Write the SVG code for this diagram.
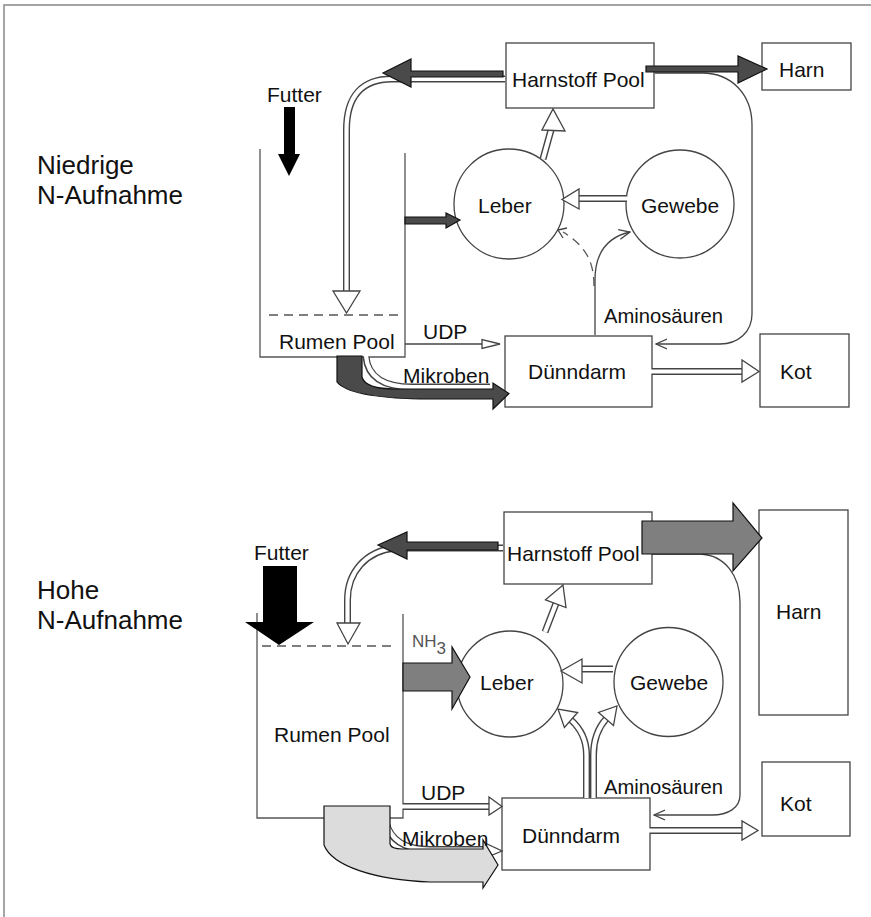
<svg xmlns="http://www.w3.org/2000/svg" width="871" height="917" viewBox="0 0 871 917">
<style>
text{font-family:"Liberation Sans",Arial,Helvetica,sans-serif;fill:#111;font-size:21px}
.lab{font-size:26px}
.box{fill:#fff;stroke:#444;stroke-width:1.3}
.tank{fill:none;stroke:#555;stroke-width:1.3}
.dash{fill:none;stroke:#555;stroke-width:1.3;stroke-dasharray:9,6}
.pipeO{fill:none;stroke:#444;stroke-width:7}
.pipeI{fill:none;stroke:#fff;stroke-width:4.2}
.head{fill:#fff;stroke:#444;stroke-width:1.3;stroke-linejoin:miter}
.thin{fill:none;stroke:#444;stroke-width:1.3}
.dark{fill:#4a4a4a;stroke:#111;stroke-width:1.2}
.gray{fill:#7f7f7f;stroke:#111;stroke-width:1.2}
.light{fill:#dcdcdc;stroke:#111;stroke-width:1.2}
.black{fill:#000}
</style>
<defs>
<marker id="vh" viewBox="0 0 12 12" refX="11" refY="6" markerWidth="12" markerHeight="12" markerUnits="userSpaceOnUse" orient="auto">
<path d="M0 1 L11 6 L0 11" fill="none" stroke="#444" stroke-width="1.3"/>
</marker>
</defs>
<rect width="871" height="917" fill="#fff"/>
<path d="M4 917 L4 5 L871 5" fill="none" stroke="#888" stroke-width="1.5"/>

<g id="labels">
<text class="lab" x="37" y="174">Niedrige</text>
<text class="lab" x="37" y="204">N-Aufnahme</text>
<text class="lab" x="37" y="599">Hohe</text>
<text class="lab" x="37" y="629">N-Aufnahme</text>
</g>

<!-- ===== Upper: low N intake ===== -->
<g id="rumen-upper">
<path class="tank" d="M260 149 L260 357 L405 357 L405 153"/>
<line class="dash" x1="269" y1="315" x2="398" y2="315"/>
<text x="279" y="349">Rumen Pool</text>
</g>
<g id="futter-upper"><text x="267" y="102">Futter</text></g>
<g id="harnstoff-upper"><rect class="box" x="506" y="43" width="148" height="65"/><text x="512" y="87">Harnstoff Pool</text></g>
<g id="harn-upper"><rect class="box" x="762" y="43" width="89" height="47"/><text x="779" y="77">Harn</text></g>
<g id="leber-upper"><circle class="box" cx="509" cy="204" r="55"/><text x="478" y="213">Leber</text></g>
<g id="gewebe-upper"><circle class="box" cx="680" cy="204" r="54"/><text x="641" y="213">Gewebe</text></g>
<g id="duenndarm-upper"><rect class="box" x="505" y="336" width="147" height="71"/><text x="528" y="379">Dünndarm</text></g>
<g id="kot-upper"><rect class="box" x="760" y="334" width="89" height="73"/><text x="780" y="379">Kot</text></g>

<!-- ===== Lower: high N intake ===== -->
<g id="rumen-lower">
<path class="tank" d="M257 613 L257 818 L324 818 M390 818 L403 818 L403 614"/>
<line class="dash" x1="262" y1="646" x2="397" y2="646"/>
<text x="274" y="742">Rumen Pool</text>
</g>
<g id="futter-lower"><text x="254" y="560">Futter</text></g>
<g id="harnstoff-lower"><rect class="box" x="504" y="512" width="148" height="72"/><text x="507" y="561">Harnstoff Pool</text></g>
<g id="harn-lower"><rect class="box" x="759" y="510" width="89" height="205"/><text x="776" y="619">Harn</text></g>
<g id="leber-lower"><circle class="box" cx="510" cy="684" r="53"/><text x="480" y="690">Leber</text></g>
<g id="gewebe-lower"><circle class="box" cx="668.5" cy="682" r="54.5"/><text x="630" y="690">Gewebe</text></g>
<g id="duenndarm-lower"><rect class="box" x="502" y="798" width="148" height="72"/><text x="522" y="843">Dünndarm</text></g>
<g id="kot-lower"><rect class="box" x="762" y="762" width="88" height="74"/><text x="780" y="811">Kot</text></g>

<g id="connectors">
<!-- upper -->
<path class="pipeO" d="M505 79 L392 79 C362 79 346.5 96 346.5 130 L346.5 292"/>
<path class="pipeI" d="M505 79 L392 79 C362 79 346.5 96 346.5 130 L346.5 293"/>
<polygon class="head" points="333,291 360,291 346.5,313"/>
<polygon class="dark" points="503,71 411,71 411,59 383,73 411,87 411,77 503,77"/>
<polygon class="black" points="284,107 295,107 295,154 300,154 289,176 278,154 284,154"/>
<path class="thin" d="M655 73 L702 73 C732 73 752 95 752 125 L752 314 C752 332 738 344 720 344 L656 344" marker-end="url(#vh)"/>
<polygon class="dark" points="646,66 738,66 738,56 767,69 738,83 738,72 646,72"/>
<polygon class="dark" points="405,217 446,217 446,213 460,220 446,228 446,224 405,224"/>
<path class="pipeO" d="M543 159 L551 130"/>
<path class="pipeI" d="M543 159 L551.3 129"/>
<polygon class="head" points="542,130 565,131 553,109"/>
<path class="pipeO" d="M627 198.5 L579 198.5"/>
<path class="pipeI" d="M627 198.5 L578 198.5"/>
<polygon class="head" points="579,189 579,209 562,199.5"/>
<path class="dash" d="M594 286 C594 262 586 246 563 232" stroke-dasharray="7,5"/>
<path class="thin" d="M567 228 L558 230 L563 238"/>
<path class="thin" d="M595 335 L595 280 C595 252 608 237 630 232" marker-end="url(#vh)"/>
<path class="thin" d="M405 344 L482 344"/>
<polygon class="head" points="482,339.5 482,348.5 500,344"/>
<path class="pipeO" d="M652 371.5 L743 371.5"/>
<path class="pipeI" d="M651 371.5 L743 371.5"/>
<polygon class="head" points="742,360 742,382 759,371.5"/>
<path class="pipeO" d="M366 357 C368 378 385 387 412 387 L490 387" stroke-width="5"/>
<path class="pipeI" d="M366 356 C368 378 385 387 412 387 L490 387" stroke-width="2.5"/>
<path class="dark" d="M337 356 L362 356 L362 377 C364 385 374 389 396 389 L493 389 L493 383 L509 393.5 L493 409 L493 399 L420 399 C375 398 345 392 337 382 Z"/>
<text x="403" y="383">Mikroben</text>
<text x="423" y="339">UDP</text>
<text x="604" y="323" textLength="119" lengthAdjust="spacingAndGlyphs">Aminosäuren</text>

<!-- lower -->
<path class="pipeO" d="M503 548 L395 548 C366 551 347.5 572 347.5 600 L347.5 624"/>
<path class="pipeI" d="M503 548 L395 548 C366 551 347.5 572 347.5 600 L347.5 625"/>
<polygon class="head" points="337,623 360,623 348,644"/>
<polygon class="dark" points="498,542 407,542 407,532 378,545 407,559 407,550 498,550"/>
<polygon class="black" points="263,566 297,566 297,622 314,622 279,645 245,622 263,622"/>
<path class="thin" d="M652 554 L700 554 C725 555 740 576 740 602 L740 795 C740 808 728 815 712 815 L654 815" marker-end="url(#vh)"/>
<polygon class="gray" points="642,521 733,521 733,503 762,538 733,571 733,554 642,554"/>
<text x="412" y="647" style="font-size:17px;fill:#555">NH<tspan dy="7">3</tspan></text>
<polygon class="gray" points="403,663 452,663 452,647 470,677 452,709 452,691 403,691"/>
<path class="pipeO" d="M545 632 L556 603.5"/>
<path class="pipeI" d="M545 632 L556.3 602.8"/>
<polygon class="head" points="545.5,599.8 566,607.6 563,585"/>
<path class="pipeO" d="M613 669 L581 669"/>
<path class="pipeI" d="M613 669 L580 669"/>
<polygon class="head" points="582,659 582,683 561,671"/>
<path class="pipeO" d="M586.5 798 L586.5 755 C586.5 740 580 728 571 720"/>
<path class="pipeI" d="M586.5 798 L586.5 755 C586.5 740 580 728 570.5 719.5"/>
<polygon class="head" points="577.6,712.5 564.4,727.5 558,709"/>
<path class="pipeO" d="M593.5 798 L593.5 755 C593.5 740 598 728 606 719"/>
<path class="pipeI" d="M593.5 798 L593.5 755 C593.5 740 598 728 606.5 718.5"/>
<polygon class="head" points="613.5,725.6 598.5,712.4 617,706"/>
<path class="pipeO" d="M403 806.5 L490 806.5"/>
<path class="pipeI" d="M402 806.5 L490 806.5"/>
<polygon class="head" points="489,797 489,815 502,806.5"/>
<path class="pipeO" d="M650 830.5 L743 830.5"/>
<path class="pipeI" d="M649 830.5 L743 830.5"/>
<polygon class="head" points="742,821 742,840 758,830.5"/>
<path class="pipeO" d="M386 822 C390 840 405 849.5 430 849.5 L488 849.5" stroke-width="5"/>
<path class="pipeI" d="M386 821 C390 840 405 849.5 430 849.5 L488 849.5" stroke-width="2.5"/>
<polygon class="head" points="485,843 485,858 502,851"/>
<path class="light" d="M324 806 L390 806 L390 844 C391 848 395 849 402 849 L483 849 L483 840 L498 865 L483 888 L483 882 L430 882 C375 880 332 866 324 845 Z"/>
<text x="402" y="846">Mikroben</text>
<text x="421" y="800">UDP</text>
<text x="604" y="794" textLength="119" lengthAdjust="spacingAndGlyphs">Aminosäuren</text>
</g>
</svg>
